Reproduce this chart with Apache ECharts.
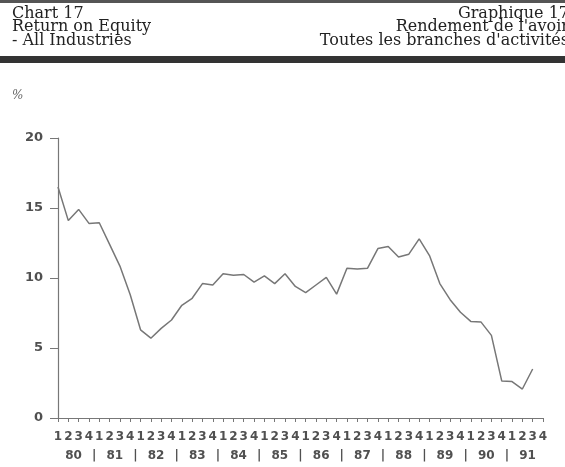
<!DOCTYPE html>
<html>
<head>
<meta charset="utf-8">
<script src="https://cdn.jsdelivr.net/npm/echarts@6/dist/echarts.min.js"></script>
<style>
  html, body { margin: 0; padding: 0; background: #fff; }
  #chart { width: 565px; height: 467px; }
</style>
</head>
<body>
<div id="chart"></div>
<script>
// quarter tick labels, 1980 Q1 .. 1991 Q4
const quarterLabels = [
  "1", "2", "3", "4", "1", "2", "3", "4", "1", "2", "3", "4",
  "1", "2", "3", "4", "1", "2", "3", "4", "1", "2", "3", "4",
  "1", "2", "3", "4", "1", "2", "3", "4", "1", "2", "3", "4",
  "1", "2", "3", "4", "1", "2", "3", "4", "1", "2", "3", "4",
];
const yearLabels = ["80", "81", "82", "83", "84", "85", "86", "87", "88", "89", "90", "91"];

// return on equity, %, 1980 Q1 .. 1991 Q3
const roe = [
  16.5, 14.1, 14.9, 13.9, 13.95, 12.4, 10.85, 8.8, 6.3, 5.7,
  6.4, 7.0, 8.05, 8.55, 9.6, 9.5, 10.3, 10.2, 10.25, 9.7,
  10.15, 9.6, 10.3, 9.4, 8.95, 9.5, 10.05, 8.85, 10.7, 10.65,
  10.7, 12.1, 12.25, 11.5, 11.7, 12.8, 11.6, 9.6, 8.45, 7.55,
  6.9, 6.85, 5.9, 2.65, 2.6, 2.07, 3.5,
];

const titleLeft = ["Chart 17", "Return on Equity", "- All Industries"];
const titleRight = ["Graphique 17", "Rendement de l'avoir", "Toutes les branches d'activités"];

const yMin = 0;
const yMax = 20;
const yStep = 5;

const chart = echarts.init(document.getElementById("chart"));

const axisGrey = "#777";
const labelGrey = "#505050";
const headFont = "'DejaVu Serif', 'Liberation Serif', serif";
const headStyle = { fontFamily: headFont, fontSize: 16, fontWeight: "normal", color: "#222", lineHeight: 13.5 };
const lineGap = 13.5;

const titles = [];
titleLeft.forEach((t, i) => {
  titles.push({ text: t, left: 12, top: 7 + i * lineGap, padding: 0, textStyle: headStyle });
});
titleRight.forEach((t, i) => {
  titles.push({ text: t, right: -4, top: 7 + i * lineGap, padding: 0, textStyle: headStyle });
});
titles.push({
  text: "%",
  left: 12,
  top: 90,
  padding: 0,
  textStyle: { fontFamily: headFont, fontSize: 12, fontWeight: "normal", fontStyle: "italic", color: "#666" },
});

chart.setOption({
  backgroundColor: "#fff",
  animation: false,
  title: titles,
  graphic: [
    { type: "rect", shape: { x: 0, y: 0, width: 565, height: 3 }, style: { fill: "#555" } },
    { type: "rect", shape: { x: 0, y: 56, width: 565, height: 7 }, style: { fill: "#333" } },
  ],
  grid: { left: 58, right: 22, top: 138, bottom: 49 },
  xAxis: [
    {
      type: "category",
      data: quarterLabels,
      boundaryGap: false,
      axisLine: { lineStyle: { color: axisGrey, width: 1.2 } },
      axisTick: { interval: 0, length: 4, lineStyle: { color: axisGrey } },
      axisLabel: {
        interval: 0,
        margin: 13,
        color: labelGrey,
        fontFamily: "'DejaVu Sans', sans-serif",
        fontWeight: "bold",
        fontSize: 12,
      },
      splitLine: { show: false },
    },
    {
      // year row: two units per quarter so that years sit between Q2 and Q3
      type: "value",
      position: "bottom",
      offset: 19,
      min: 0,
      max: (quarterLabels.length - 1) * 2,
      interval: 1,
      axisLine: { show: false },
      axisTick: { show: false },
      splitLine: { show: false },
      axisLabel: {
        margin: 13,
        color: labelGrey,
        fontFamily: "'DejaVu Sans', sans-serif",
        fontWeight: "bold",
        fontSize: 12,
        formatter: (v) => {
          if ((v - 3) % 8 === 0) return yearLabels[(v - 3) / 8] || "";
          if ((v - 7) % 8 === 0) return "|";
          return "";
        },
      },
    },
  ],
  yAxis: {
    type: "value",
    min: yMin,
    max: yMax,
    interval: yStep,
    axisLine: { show: true, lineStyle: { color: axisGrey, width: 1.2 } },
    axisTick: { show: true, length: 8, lineStyle: { color: axisGrey } },
    axisLabel: {
      margin: 15,
      color: labelGrey,
      fontFamily: "'DejaVu Sans', sans-serif",
      fontWeight: "bold",
      fontSize: 13,
    },
    splitLine: { show: false },
  },
  series: [
    {
      type: "line",
      xAxisIndex: 0,
      data: roe,
      showSymbol: false,
      symbol: "none",
      lineStyle: { color: "#777", width: 1.5 },
    },
  ],
});
</script>
</body>
</html>
